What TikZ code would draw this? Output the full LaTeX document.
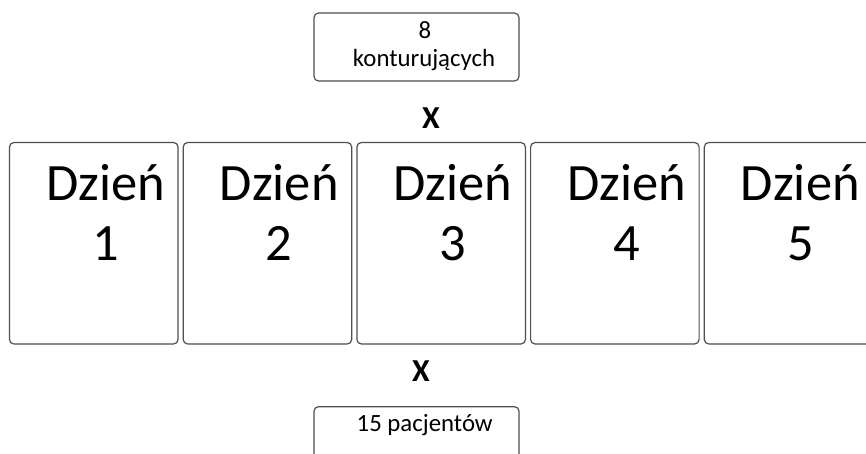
\documentclass[tikz,border=0pt]{standalone}
\usepackage{fontspec}
\setmainfont{Carlito}
\definecolor{frame}{HTML}{4F4F4F}
\tikzset{
  card/.style={draw=frame, line width=1.2pt, rounded corners=4.5pt, fill=white, inner sep=0pt},
  daytxt/.style={anchor=base, inner sep=0pt, font=\fontsize{52.5}{60}\selectfont},
  smalltxt/.style={anchor=base, inner sep=0pt, font=\fontsize{24.8}{29}\selectfont},
  times/.style={anchor=base, inner sep=0pt, font=\fontsize{32}{38}\selectfont\bfseries},
}
\begin{document}
\begin{tikzpicture}[x=1pt, y=-1pt]
  \useasboundingbox (0,0) rectangle (866,453);
  \clip (0,0) rectangle (866,453);

  % counting-box at the top
  \node[card, minimum width=205pt, minimum height=68pt] (top) at (416.5,47) {};
  \node[smalltxt] (topnum) at (425,38.3) {8};
  \node[smalltxt] (toplbl) at (424,66.7) {konturujących};

  \node[times] (xtop) at (431,128) {X};

  % five day cards
  \foreach \i in {1,...,5} {
    \pgfmathsetmacro{\cx}{93.75+(\i-1)*173.7}
    \node[card, minimum width=168.5pt, minimum height=201.5pt] (day\i) at (\cx,243.25) {};
    \node[daytxt] (dayname\i) at (\cx+11.8,200.7) {Dzień};
    \node[daytxt] (daynum\i) at (\cx+11.8,260.7) {\i};
  }

  \node[times] (xbot) at (421,381) {X};

  % patients box at the bottom (runs past the lower edge)
  \node[card, minimum width=205pt, minimum height=68pt] (bottom) at (416.5,440.7) {};
  \node[smalltxt] (botlbl) at (424.7,431.7) {15 pacjentów};
\end{tikzpicture}
\end{document}
